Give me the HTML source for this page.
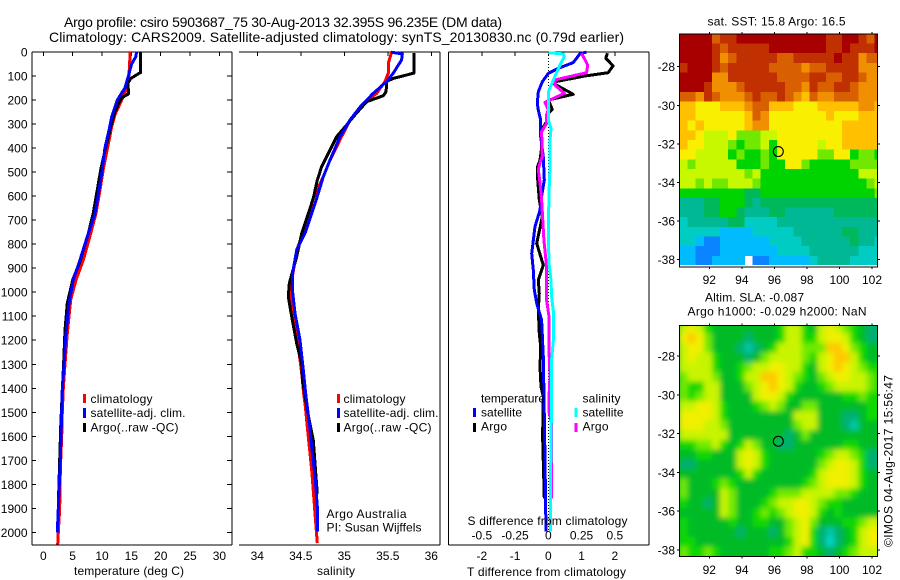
<!DOCTYPE html>
<html><head><meta charset="utf-8"><title>Argo profile</title>
<style>
html,body{margin:0;padding:0;background:#fff;width:900px;height:580px;overflow:hidden}
svg{display:block}
text{font-family:"Liberation Sans",sans-serif;font-size:12px;fill:#000}
.t{font-size:14px}
</style></head><body>
<svg id="chart" xmlns="http://www.w3.org/2000/svg" width="900" height="580" viewBox="0 0 900 580">
<defs>
<clipPath id="clip-sst"><rect x="679.5" y="34" width="198" height="231"/></clipPath>
<clipPath id="clip-sla"><rect x="679.5" y="325.5" width="198" height="231"/></clipPath>
<filter id="soft" x="-10%" y="-10%" width="120%" height="120%"><feGaussianBlur stdDeviation="2.6"/></filter>
</defs>
<text class="t" x="64" y="27" textLength="438" lengthAdjust="spacing">Argo profile: csiro 5903687_75 30-Aug-2013 32.395S 96.235E (DM data)</text>
<text class="t" x="49" y="42" textLength="575" lengthAdjust="spacing">Climatology: CARS2009. Satellite-adjusted climatology: synTS_20130830.nc (0.79d earlier)</text>

<g id="marks"></g>

<g>
<rect x="83" y="394" width="3" height="9" fill="#f00"/>
<rect x="83" y="408" width="3" height="10" fill="#00f"/>
<rect x="83" y="423" width="3" height="9" fill="#000"/>
<text x="90.5" y="403" textLength="62" lengthAdjust="spacing">climatology</text>
<text x="90.5" y="417" textLength="95" lengthAdjust="spacing">satellite-adj. clim.</text>
<text x="90.5" y="431.5" textLength="88" lengthAdjust="spacing">Argo(..raw -QC)</text>
</g>
<g>
<rect x="337" y="394" width="3" height="9" fill="#f00"/>
<rect x="337" y="408" width="3" height="10" fill="#00f"/>
<rect x="337" y="423" width="3" height="9" fill="#000"/>
<text x="343.5" y="403" textLength="62" lengthAdjust="spacing">climatology</text>
<text x="343.5" y="417" textLength="95" lengthAdjust="spacing">satellite-adj. clim.</text>
<text x="343.5" y="431.5" textLength="88" lengthAdjust="spacing">Argo(..raw -QC)</text>
<text x="326.5" y="518" textLength="80" lengthAdjust="spacing">Argo Australia</text>
<text x="326.5" y="531.5" textLength="95" lengthAdjust="spacing">PI: Susan Wijffels</text>
</g>
<g>
<text x="481" y="402.5" textLength="64" lengthAdjust="spacing">temperature</text>
<text x="582.5" y="402.5" textLength="38" lengthAdjust="spacing">salinity</text>
<rect x="473" y="408" width="3" height="9" fill="#00f"/>
<rect x="473" y="423" width="3" height="9" fill="#000"/>
<rect x="574.5" y="408" width="3" height="9" fill="#0ff"/>
<rect x="574.5" y="423" width="3" height="9" fill="#f0f"/>
<text x="481" y="416.5" textLength="41" lengthAdjust="spacing">satellite</text>
<text x="481" y="430.5" textLength="26" lengthAdjust="spacing">Argo</text>
<text x="582.5" y="416.5" textLength="41" lengthAdjust="spacing">satellite</text>
<text x="582.5" y="430.5" textLength="26" lengthAdjust="spacing">Argo</text>
</g>

<text x="74" y="575" textLength="110" lengthAdjust="spacing">temperature (deg C)</text>
<text x="317" y="575" textLength="38" lengthAdjust="spacing">salinity</text>
<text x="467.5" y="525" textLength="160" lengthAdjust="spacing">S difference from climatology</text>
<text x="467" y="576" textLength="159" lengthAdjust="spacing">T difference from climatology</text>

<text x="707.5" y="25.5" textLength="138" lengthAdjust="spacing">sat. SST: 15.8 Argo: 16.5</text>
<text x="705" y="301.5" textLength="99" lengthAdjust="spacing">Altim. SLA: -0.087</text>
<text x="687.5" y="315.5" textLength="179" lengthAdjust="spacing">Argo h1000: -0.029 h2000: NaN</text>
<text transform="translate(892.5,547) rotate(-90)" textLength="172" lengthAdjust="spacing">©IMOS 04-Aug-2017 15:56:47</text>
</svg>
<script>
// ---- profile data (depth in m) ----
const depthTicks = [0,100,200,300,400,500,600,700,800,900,1000,1100,1200,1300,1400,1500,1600,1700,1800,1900,2000];
const tempTicks = [0,5,10,15,20,25,30];
const salTicks = [34,34.5,35,35.5,36];
const salTickLabels = ['34','34.5','35','35.5','36'];
const diffTTicks = [-2,-1,0,1,2];
const diffSTicks = [-0.5,-0.25,0,0.25,0.5];
const diffSTickLabels = ['-0.5','-0.25','0','0.25','0.5'];

const climTempDepth = [0,97,158,200,262,311,380,491,574,672,755,866,949,1032,1171,1300,1400,1500,1600,1700,1800,1900,2000,2050];
const climTemp = [14.8,14.6,14.1,13.35,12.2,11.65,11.1,10.2,9.66,8.98,8.07,6.81,5.57,4.67,4.09,3.7,3.41,3.24,3.13,2.96,2.85,2.79,2.56,2.45];
const satTempDepth = [0,20,50,100,150,200,270,320,400,491,574,672,755,866,949,1046,1185,1300,1400,1500,1600,1700,1800,1900,2000];
const satTemp = [15.9,15.75,15.05,14.5,13.9,12.6,11.65,11.25,10.5,10.05,9.5,8.8,7.67,6.25,5.1,4.38,3.82,3.55,3.24,3.13,3.02,2.9,2.73,2.56,2.39];
const argoTempDepth = [0,85,110,130,160,175,190,210,250,300,350,400,491,588,672,755,880,949,1046,1157,1300,1400,1550,1700,1860];
const argoTemp = [16.6,16.6,14.9,14.4,14.5,14.5,13.4,12.9,12.2,11.6,11.1,10.6,9.78,9.1,8.5,7.67,6.13,5.0,4.09,3.7,3.45,3.25,2.98,2.8,2.59];

const climSalDepth = [1,47,88,123,172,214,283,366,450,519,609,769,824,935,991,1116,1227,1338,1435,1463,1602,1741,1921,2045];
const climSal = [35.544,35.506,35.506,35.468,35.372,35.218,35.066,34.951,34.836,34.759,34.644,34.51,34.453,34.403,34.387,34.414,34.471,34.51,34.537,34.548,34.586,34.625,34.663,34.69];
const satSalDepth = [1,8,33,88,123,172,221,283,352,450,519,609,755,824,921,991,1088,1199,1324,1435,1545,1643,1768,1893,1997];
const satSal = [35.537,35.667,35.659,35.563,35.487,35.333,35.199,35.066,34.951,34.836,34.759,34.683,34.548,34.453,34.406,34.403,34.433,34.491,34.529,34.56,34.598,34.625,34.663,34.69,34.694];
const argoSalDepth = [5,88,110,123,165,182,207,262,304,352,408,477,533,609,755,852,963,1019,1102,1213,1296,1366,1491,1616,1768,1838];
const argoSal = [35.80,35.80,35.563,35.487,35.48,35.448,35.257,35.123,35.027,34.913,34.836,34.74,34.69,34.644,34.51,34.453,34.368,34.356,34.395,34.453,34.51,34.52,34.575,34.644,34.675,34.69];

const dtArgoDepth = [5,26,58,86,100,124,133,176,200,239,255,290,325,400,450,480,510,616,686,797,887,949,1005,1074,1171,1227,1310,1393,1435,1600,1858];
const dtArgo = [1.78,1.73,1.95,1.80,1.10,0.20,0.18,0.75,0.0,0.12,0.0,-0.05,-0.2,-0.2,-0.25,-0.33,-0.33,-0.27,-0.18,-0.35,-0.15,-0.3,-0.27,-0.3,-0.27,-0.23,-0.25,-0.22,-0.15,-0.17,-0.12];
const dtSatDepth = [0,8,44,68,89,124,166,214,242,284,353,436,533,616,658,727,839,908,991,1046,1116,1268,1435,1700,1997];
const dtSat = [1.15,0.95,0.75,0.3,0.0,-0.18,-0.3,-0.33,-0.3,-0.23,-0.23,-0.15,-0.12,-0.22,-0.25,-0.4,-0.5,-0.45,-0.42,-0.35,-0.2,-0.15,-0.13,-0.1,-0.07];
const dsArgoDepth = [5,19,54,86,116,138,172,210,241,262,297,332,433,461,489,544,616,783,894,1033,1102,1241,1351,1435,1500,1545,1858];
const dsArgo = [0.25,0.263,0.296,0.288,0.05,0.05,0.12,-0.025,0,-0.0125,-0.0125,-0.05,-0.045,-0.0625,-0.075,-0.0625,-0.05,-0.033,-0.0125,-0.0125,0.005,0.005,0.0125,0.005,0.005,0.025,0.025];
const dsSatDepth = [3,8,19,54,102,166,228,283,318,366,478,588,755,880,949,1019,1088,1199,1282,1435,1858,1997];
const dsSat = [0,0.113,0.12,0.088,0.05,0,0,0,0.02,0.0125,0.0125,0.005,0,0.005,0.02,0.025,0.04,0.038,0.025,0.025,0.015,0.015];

// ---- map data: colour level per 0.5 degree cell, north to south ----
const mapLonTicks = [92,94,96,98,100,102];
const mapLatTicks = [-28,-30,-32,-34,-36,-38];
const sstLevels = [
[13,13,13,13,11,12,12,13,13,13,13,13,13,13,13,13,13,13,12,12,13,13,12,11,13],
[13,13,13,13,12,11,12,12,12,12,12,13,13,13,13,13,13,13,12,12,13,12,12,12,13],
[13,13,13,13,12,10,11,12,12,12,12,12,11,11,12,12,12,12,12,13,12,12,10,11,11],
[12,13,13,13,12,11,12,12,12,12,12,11,11,11,11,10,11,11,12,12,12,12,10,10,10],
[13,13,13,13,10,10,12,12,12,12,12,12,11,11,11,11,12,12,11,11,12,12,11,10,10],
[13,13,13,12,10,10,10,11,12,12,12,12,12,11,11,10,12,11,11,12,12,11,10,10,10],
[11,11,10,12,11,10,10,10,11,12,11,11,12,11,10,9,11,10,10,11,11,11,10,10,10],
[9,9,8,8,8,9,9,9,10,11,11,9,9,9,8,8,8,9,9,9,9,9,10,10,9],
[9,9,8,8,8,8,8,8,9,11,10,8,8,8,8,8,8,8,9,8,8,8,9,9,9],
[9,8,9,8,8,8,8,8,9,10,10,8,8,8,8,8,8,8,8,8,9,9,9,9,9],
[9,9,8,7,7,7,8,6,6,6,7,7,8,8,8,8,8,8,8,8,9,9,9,9,9],
[9,8,8,7,7,7,6,5,6,6,7,5,8,8,8,8,8,7,8,8,9,9,9,9,9],
[8,8,7,7,7,7,5,6,5,5,6,5,8,8,8,8,8,6,6,8,8,5,6,6,5],
[7,6,7,7,7,7,7,5,5,5,6,5,5,8,8,6,5,5,5,5,5,6,6,6,6],
[7,7,7,7,7,7,7,7,6,7,5,5,5,5,5,5,5,5,5,5,5,5,7,7,7],
[7,7,6,7,6,6,7,7,7,6,5,5,5,5,5,5,5,5,5,5,5,5,5,6,7],
[5,5,5,5,5,5,5,5,4,4,5,5,5,5,5,5,5,5,5,5,5,5,5,5,6],
[3,3,3,4,4,5,5,5,4,3,4,4,4,4,4,4,4,4,4,4,4,4,4,4,4],
[3,3,3,4,4,5,5,4,3,3,3,4,4,3,3,3,3,3,3,4,4,4,4,4,4],
[2,3,3,3,3,3,4,4,2,2,2,2,3,3,3,3,3,3,3,3,3,3,3,3,3],
[2,2,2,2,2,1,1,1,1,2,2,2,2,2,3,3,3,3,3,3,4,4,3,3,3],
[2,2,1,0,0,1,1,1,1,1,1,2,2,2,2,3,3,3,3,3,3,4,3,3,2],
[1,1,0,0,0,1,1,1,1,1,1,1,2,2,2,2,3,3,3,3,3,3,2,2,2],
[1,1,0,0,1,1,1,1,null,0,0,1,1,1,1,1,2,3,3,3,3,2,2,2,2]
];
const slaLevels = [
[7,8,7,5,4,4,4,4,4,4,4,4,5,7,7,5,4,7,8,7,6,5,4,3,3],
[8,9,8,6,4,4,4,4,3,4,4,4,5,7,7,5,5,7,8,8,7,5,4,3,3],
[7,8,8,6,4,4,4,3,2,3,4,5,7,7,7,6,6,6,9,9,8,6,5,4,4],
[7,8,7,7,5,4,4,4,3,4,6,7,7,7,7,6,5,7,8,9,9,7,5,4,4],
[7,7,7,7,5,4,4,5,6,7,7,8,8,7,7,5,4,7,8,9,8,7,6,5,5],
[6,7,7,7,6,4,4,5,7,7,9,9,8,7,6,5,4,6,7,8,8,7,7,6,5],
[6,5,5,7,7,4,4,4,6,7,8,9,8,7,5,4,4,5,6,7,7,7,7,6,5],
[6,5,6,7,7,4,4,4,4,7,8,8,7,5,4,4,4,4,4,4,5,5,6,5,5],
[7,7,8,8,7,5,4,4,4,5,6,7,6,4,4,6,6,4,4,4,4,4,4,5,5],
[8,8,8,8,7,5,4,4,4,4,4,4,4,4,7,7,7,4,4,4,3,3,4,5,5],
[8,8,8,7,7,6,4,4,4,4,4,4,4,4,6,7,7,4,4,4,3,2,4,4,4],
[7,7,7,7,7,7,4,4,4,4,4,4,4,3,4,6,4,4,4,4,4,4,4,4,4],
[5,5,6,6,7,5,4,5,7,6,4,4,3,3,4,4,4,4,4,4,5,5,4,4,4],
[4,4,5,5,4,4,4,7,8,7,5,4,4,4,4,4,4,5,6,7,7,6,5,3,3],
[3,3,4,4,4,4,4,7,8,7,5,4,4,4,4,4,4,6,7,8,8,7,5,3,3],
[4,4,4,4,4,4,4,5,7,5,4,4,4,4,4,4,5,7,8,8,8,7,5,4,4],
[6,4,4,4,5,6,5,4,4,4,4,4,4,4,4,5,6,7,8,8,8,7,5,4,4],
[6,4,4,4,4,7,6,4,4,4,4,5,6,6,6,7,7,7,7,6,6,5,4,4,4],
[5,4,4,3,4,7,6,4,4,4,5,6,7,7,8,8,7,6,5,5,4,4,4,4,4],
[4,4,4,4,4,7,6,4,4,5,6,5,6,7,8,8,7,5,4,5,4,4,4,4,4],
[5,4,4,4,4,4,5,4,4,5,5,4,4,6,7,8,6,4,4,4,5,5,6,7,7],
[5,4,4,4,4,4,4,3,4,4,4,3,4,6,7,8,5,3,2,3,4,5,7,8,8],
[5,5,4,4,4,4,4,4,4,4,4,4,4,5,7,8,5,3,1,3,4,5,7,8,8],
[6,5,5,6,5,4,4,4,4,4,4,5,5,6,7,5,5,4,3,4,5,6,7,7,7]
];
const sstColors = ['#0a84ff','#00bcff','#00ccc4','#00b994','#00b85c','#00d400','#70e800','#c8f800','#f8f000','#ffc000','#f09000','#d86000','#c03000','#a80000'];
const slaColors = ['#0a84ff','#00d8c8','#00c8a8','#00b070','#00bb25','#10d800','#70ea00','#c8f400','#f0f000','#ffc800','#f09000','#d86000','#c03000','#a80000'];
const argoLon = [96.235];
const argoLat = [-32.395];

// ---- axis functions ----
const yD = d => 52 + d * 0.2402;
const xT = v => 43.3 + v * 5.87;
const xS = v => 344.3 + (v - 35) * 87;
const xDT = v => 548.3 + v * 33.25;
const xDS = v => 548.3 + v * 133;
const xLon = v => 709.3 + (v - 92) * 16.27;
const ySst = v => 66.7 + (-28 - v) * 19.3;
const ySla = v => 356 + (-28 - v) * 19.4;

const NS = 'http://www.w3.org/2000/svg';
const root = document.getElementById('marks');
function make(tag, attrs, parent) {
  const el = document.createElementNS(NS, tag);
  for (const k in attrs) el.setAttribute(k, attrs[k]);
  (parent || root).appendChild(el);
  return el;
}
function seg(x1, y1, x2, y2, name, parent) {
  const el = make('line', {x1, y1, x2, y2, stroke: '#000', 'stroke-width': 1, 'shape-rendering': 'crispEdges'}, parent);
  
  
  return el;
}
function label(x, y, str, anchor, name) {
  const el = make('text', {x, y, 'text-anchor': anchor});
  el.textContent = str;
  
  
  return el;
}
function profile(xs, ys, xf, color, name, width) {
  const pts = xs.map((v, i) => xf(v).toFixed(1) + ',' + yD(ys[i]).toFixed(1)).join(' ');
  const el = make('polyline', {points: pts, fill: 'none', stroke: color, 'stroke-width': width || 3, 'stroke-linejoin': 'round', 'shape-rendering': 'crispEdges'});
  
  
  return el;
}
function heatmap(levels, palette, yf, clip, name, blur) {
  const outer = make('g', {'clip-path': 'url(#' + clip + ')'});
  
  
  const g = blur ? make('g', {filter: 'url(#soft)'}, outer) : outer;
  if (blur) make('rect', {x: 670, y: 316, width: 216, height: 250, fill: palette[4]}, g);
  levels.forEach((row, r) => row.forEach((lv, c) => {
    if (lv === null) return;
    const lon = 90.16 + c * 0.5, lat = -26.3 - r * 0.5;
    let extra = 0;
    if (blur) extra = r === levels.length - 1 ? 20 : 0;
    const cell = make('rect', {x: xLon(lon).toFixed(2), y: yf(lat).toFixed(2), width: 8.6, height: 10 + extra, fill: palette[lv], 'shape-rendering': 'crispEdges'}, g);
    
    
  }));
}

// ---- maps ----
heatmap(sstLevels, sstColors, ySst, 'clip-sst', 'sst-map', false);
heatmap(slaLevels, slaColors, v => ySla(v) + 0.5, 'clip-sla', 'sla-map', true);

// ---- profile frames ----
const bottomY = 545;
function frame(l, r, hasLeft, hasRight) {
  seg(l, 52, r, 52, 'panel-top-spine');
  seg(l, bottomY, r, bottomY, 'panel-bottom-spine');
  if (hasLeft) seg(l, 52, l, bottomY, 'panel-left-spine');
  if (hasRight) seg(r, 52, r, bottomY, 'panel-right-spine');
}
frame(32, 232, true, true);
frame(239, 440, false, true);
frame(448.5, 649, true, true);

depthTicks.forEach(d => {
  seg(32, yD(d), 36, yD(d), 'depth-tick-left');
  seg(227, yD(d), 232, yD(d), 'depth-tick-right');
  label(27.5, yD(d) + 4.5, String(d), 'end', 'depth-tick-label');
});
tempTicks.forEach(v => {
  seg(xT(v), 52, xT(v), 56, 'temperature-tick');
  label(xT(v), 560, String(v), 'middle', 'temperature-tick-label');
});
salTicks.forEach((v, i) => {
  seg(xS(v), 52, xS(v), 56, 'salinity-tick');
  label(xS(v), 560, salTickLabels[i], 'middle', 'salinity-tick-label');
});
diffTTicks.forEach(v => {
  seg(xDT(v), 52, xDT(v), 56, 'difference-tick');
  label(xDT(v), 560, String(v), 'middle', 't-difference-tick-label');
});
diffSTicks.forEach((v, i) => {
  label(xDS(v), 539.5, diffSTickLabels[i], 'middle', 's-difference-tick-label');
});

// ---- profile series ----
profile(climTemp, climTempDepth, xT, '#f00', 'temperature-climatology-line');
profile(argoTemp, argoTempDepth, xT, '#000', 'temperature-argo-line');
profile(satTemp, satTempDepth, xT, '#00f', 'temperature-satellite-line');
profile(climSal, climSalDepth, xS, '#f00', 'salinity-climatology-line');
profile(argoSal, argoSalDepth, xS, '#000', 'salinity-argo-line');
profile(satSal, satSalDepth, xS, '#00f', 'salinity-satellite-line');

const zero = make('line', {x1: xDT(0), y1: 52, x2: xDT(0), y2: 532, stroke: '#000', 'stroke-width': 1, 'stroke-dasharray': '1 2', 'shape-rendering': 'crispEdges'});


profile(dtArgo, dtArgoDepth, xDT, '#000', 't-difference-argo-line');
profile(dtSat, dtSatDepth, xDT, '#00f', 't-difference-satellite-line');
profile(dsArgo, dsArgoDepth, xDS, '#f0f', 's-difference-argo-line');
profile(dsSat, dsSatDepth, xDS, '#0ff', 's-difference-satellite-line');

// ---- map frames, ticks, position marker ----
function mapFrame(top, bottom, yf, tickName) {
  const f = make('rect', {x: 679.5, y: top, width: 198, height: bottom - top, fill: 'none', stroke: '#000', 'stroke-width': 1, 'shape-rendering': 'crispEdges'});
  
  
  mapLonTicks.forEach(v => {
    seg(xLon(v), top - 2, xLon(v), top, tickName + '-lon-tick-top');
    seg(xLon(v), bottom, xLon(v), bottom + 2, tickName + '-lon-tick-bottom');
    label(xLon(v), bottom === 267 ? 284 : 574, String(v), 'middle', tickName + '-lon-label');
  });
  mapLatTicks.forEach(v => {
    seg(677, yf(v), 679.5, yf(v), tickName + '-lat-tick-left');
    seg(877.5, yf(v), 880, yf(v), tickName + '-lat-tick-right');
    label(675, yf(v) + 4.5, String(v), 'end', tickName + '-lat-label');
  });
}
mapFrame(34, 267, ySst, 'sst');
mapFrame(325.5, 556.5, ySla, 'sla');
argoLon.forEach((lon, i) => {
  const a = make('circle', {cx: xLon(lon) + 0.1, cy: ySst(argoLat[i]), r: 5, fill: 'none', stroke: '#000', 'stroke-width': 1.1});
  
  
  const b = make('circle', {cx: xLon(lon) + 0.1, cy: ySla(argoLat[i]), r: 5, fill: 'none', stroke: '#000', 'stroke-width': 1.1});
  
  
});
</script>
</body></html>
